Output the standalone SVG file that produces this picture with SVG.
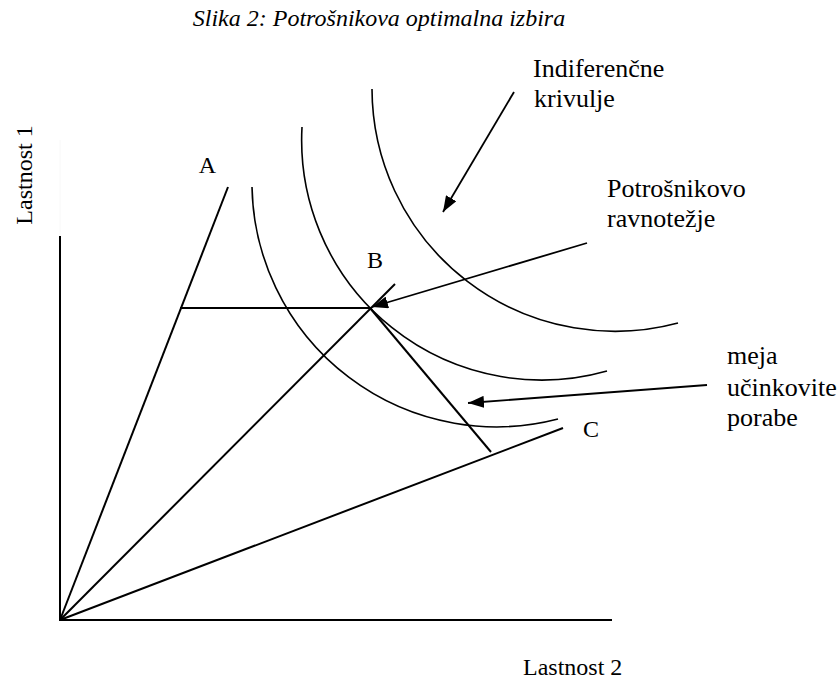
<svg xmlns="http://www.w3.org/2000/svg" width="838" height="681" viewBox="0 0 838 681">
  <style>
    .txt { font-family: "Liberation Serif", "Times New Roman", serif; font-size: 24px; fill: #000; }
    .title { font-style: italic; }
    .call { font-size: 26px; }
    .ln { stroke: #000; stroke-width: 2; fill: none; stroke-linecap: butt; }
    .crv { stroke: #000; stroke-width: 1.6; fill: none; }
    .arr { stroke: #000; stroke-width: 1.8; fill: none; marker-end: url(#head); }
  </style>
  <defs>
    <marker id="head" viewBox="0 0 16 12" refX="16" refY="6" markerWidth="16" markerHeight="12" markerUnits="userSpaceOnUse" orient="auto">
      <path d="M0,0 L16,6 L0,12 z" fill="#000"/>
    </marker>
  </defs>
  <rect width="838" height="681" fill="#fff"/>

  <text class="txt title" x="379" y="26" text-anchor="middle">Slika 2: Potrošnikova optimalna izbira</text>

  <!-- axes -->
  <g id="axes">
    <line x1="60" y1="140" x2="60" y2="236" stroke="#f8f8f8" stroke-width="1"/>
    <line class="ln" x1="60" y1="236" x2="60" y2="621"/>
    <line class="ln" x1="59" y1="620" x2="612" y2="620"/>
    <text class="txt" transform="translate(32,175) rotate(-90)" text-anchor="middle">Lastnost 1</text>
    <text class="txt" x="523" y="675">Lastnost 2</text>
  </g>

  <!-- rays from the origin -->
  <g id="ray-a">
    <line class="ln" x1="60" y1="620" x2="228" y2="187"/>
    <text class="txt" x="207.5" y="173" text-anchor="middle">A</text>
  </g>
  <g id="ray-b">
    <line class="ln" x1="60" y1="620" x2="395" y2="284"/>
    <text class="txt" x="375" y="268" text-anchor="middle">B</text>
  </g>
  <g id="ray-c">
    <line class="ln" x1="60" y1="620" x2="563" y2="428"/>
    <text class="txt" x="591" y="437" text-anchor="middle">C</text>
  </g>

  <!-- efficiency frontier through B -->
  <g id="frontier">
    <line class="ln" x1="180" y1="308" x2="371" y2="308"/>
    <line class="ln" x1="370" y1="308" x2="491" y2="452"/>
  </g>

  <!-- indifference curves -->
  <g id="curves">
    <path class="crv" d="M252,187 A244.5,244.5 0 0 0 558,419"/>
    <path class="crv" d="M302,127 A240,240 0 0 0 607,371"/>
    <path class="crv" d="M372,89 A243,243 0 0 0 678,323"/>
  </g>

  <!-- callout labels -->
  <g id="label-indiferencne">
    <text class="txt call" x="533" y="77">Indiferenčne</text>
    <text class="txt call" x="534" y="107">krivulje</text>
  </g>
  <g id="label-ravnotezje">
    <text class="txt call" x="607" y="197">Potrošnikovo</text>
    <text class="txt call" x="607" y="227">ravnotežje</text>
  </g>
  <g id="label-meja">
    <text class="txt call" x="727" y="364">meja</text>
    <text class="txt call" x="727" y="396">učinkovite</text>
    <text class="txt call" x="727" y="426">porabe</text>
  </g>

  <!-- connectors -->
  <g id="connectors">
    <line class="arr" x1="514" y1="92" x2="443" y2="212"/>
    <line class="arr" x1="587" y1="243" x2="372" y2="307"/>
    <line class="arr" x1="707" y1="385" x2="468" y2="403"/>
  </g>
</svg>
